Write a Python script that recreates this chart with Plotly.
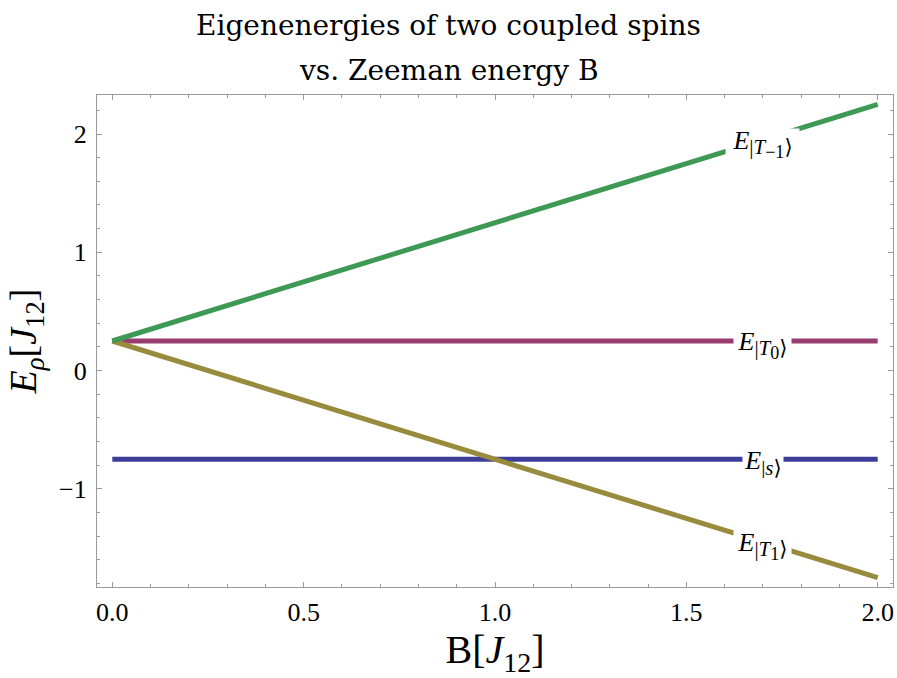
import numpy as np
import plotly.graph_objects as go

# Zeeman energy B (in units of J12) at the ends of each straight level
B = [0.0, 2.0]

# Eigenenergies of the four two-spin states
E_S = [-0.75, -0.75]
E_T0 = [0.25, 0.25]
E_T1 = [0.25, -1.75]
E_Tm1 = [0.25, 2.25]

x_ticks = [0.0, 0.5, 1.0, 1.5, 2.0]
x_tick_text = ["0.0", "0.5", "1.0", "1.5", "2.0"]
y_ticks = [-1, 0, 1, 2]
y_tick_text = ["\u22121", "0", "1", "2"]

title_lines = ["Eigenenergies of two coupled spins", "vs. Zeeman energy B"]

label_B = 1.70

W, H = 897, 678
M_L, M_R, M_T, M_B = 97, 4, 95, 91

SERIF = "Liberation Serif, DejaVu Serif, serif"
TITLE_FONT = "DejaVu Serif, serif"
FRAME = "#9a9a9a"


def state_label(state, index=None):
    """E with a |state> subscript, the state optionally carrying its own index."""
    inner = f"<i>{state}</i>"
    if index is not None:
        inner += f"<sub><span style='font-size:18px'>{index}</span></sub>"
    return (f"<i>E</i><sub><span style='font-size:21px'>|{inner}\u27e9"
            f"</span></sub>")


levels = [
    ("S", E_S, "#3d3d99", state_label("s"), 40),
    ("T0", E_T0, "#993d71", state_label("T", "0"), 57),
    ("T1", E_T1, "#998b3d", state_label("T", "1"), 57),
    ("Tm1", E_Tm1, "#3d9954", state_label("T", "\u22121"), 73),
]

fig = go.Figure()
annotations = []
for name, energies, color, label, gap in levels:
    fig.add_trace(go.Scatter(
        x=B, y=energies, mode="lines", name=name,
        line=dict(color=color, width=5), showlegend=False,
        hoverinfo="skip",
    ))
    annotations.append(dict(
        x=label_B, y=float(np.interp(label_B, B, energies)),
        xref="x", yref="y", text=label, showarrow=False,
        bgcolor="white", width=gap, height=30, borderpad=0,
        font=dict(family=SERIF, size=26, color="black"),
        yshift=-4,
    ))

# two-line title centred on the whole figure, one annotation per line
title_x = (W / 2 - M_L) / (W - M_L - M_R)
for i, line in enumerate(title_lines):
    annotations.append(dict(
        text=line, xref="paper", yref="paper", x=title_x, y=1,
        xanchor="center", yanchor="bottom",
        yshift=6 + 45 * (len(title_lines) - 1 - i), showarrow=False,
        font=dict(family=TITLE_FONT, size=28, color="black"),
    ))

axis_common = dict(
    showgrid=False, zeroline=False, showline=True, linecolor=FRAME,
    linewidth=1.3, mirror="ticks", ticks="inside", ticklen=5,
    tickcolor=FRAME, tickwidth=1,
    tickfont=dict(family=SERIF, size=26, color="black"),
)

fig.update_layout(
    width=W, height=H,
    margin=dict(l=M_L, r=M_R, t=M_T, b=M_B),
    paper_bgcolor="white", plot_bgcolor="white",
    xaxis=dict(
        range=[-0.04, 2.04], tickvals=x_ticks, ticktext=x_tick_text,
        minor=dict(dtick=0.1, ticks="inside", ticklen=3, tickcolor=FRAME),
        ticklabelstandoff=2,
        title=dict(text="B[<i>J</i><sub>12</sub>]", standoff=8,
                   font=dict(family=SERIF, size=40, color="black")),
        **axis_common,
    ),
    yaxis=dict(
        range=[-1.83, 2.33], tickvals=y_ticks, ticktext=y_tick_text,
        minor=dict(dtick=0.2, ticks="inside", ticklen=3, tickcolor=FRAME),
        ticklabelstandoff=4,
        title=dict(text="<i>E</i><sub><i>\u03c1</i></sub>[<i>J</i><sub>12</sub>]",
                   standoff=10,
                   font=dict(family=SERIF, size=38, color="black")),
        **axis_common,
    ),
    annotations=annotations,
)

fig.write_html("out.html")
